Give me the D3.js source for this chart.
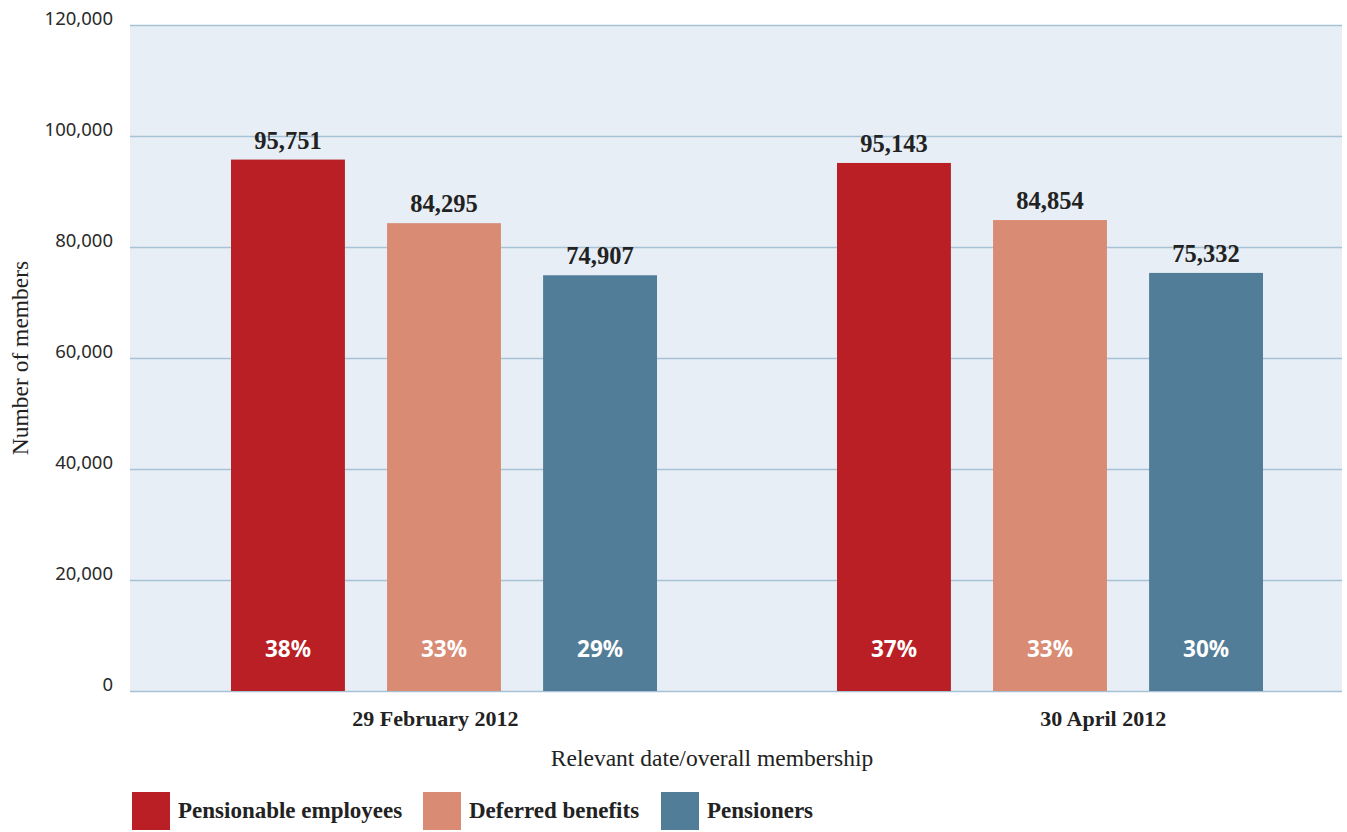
<!DOCTYPE html>
<html>
<head>
<meta charset="utf-8">
<script src="https://cdn.jsdelivr.net/npm/d3@7"></script>
<style>
  html, body { margin: 0; padding: 0; background: #ffffff; }
  svg { display: block; }
</style>
</head>
<body>
<svg id="chart" width="1347" height="832"></svg>
<script>
// Membership by category at each relevant date
const dates = ["29 February 2012", "30 April 2012"];
const seriesNames = ["Pensionable employees", "Deferred benefits", "Pensioners"];
const pensionableEmployees = [95751, 95143];
const deferredBenefits = [84295, 84854];
const pensioners = [74907, 75332];
const pensionablePct = ["38%", "37%"];
const deferredPct = ["33%", "33%"];
const pensionersPct = ["29%", "30%"];
const yTicks = [0, 20000, 40000, 60000, 80000, 100000, 120000];
const colors = ["#b91f24", "#d98b74", "#527d98"];

const seriesValues = [pensionableEmployees, deferredBenefits, pensioners];
const seriesPct = [pensionablePct, deferredPct, pensionersPct];

const svg = d3.select("#chart");
const plot = { left: 130, top: 25, right: 1342, bottom: 691 };

const serif = "'Liberation Serif', 'DejaVu Serif', serif";
const sans = "'Noto Sans', 'Open Sans', sans-serif";

const y = d3.scaleLinear().domain([0, 120000]).range([plot.bottom, plot.top]);

// group positions for the two dates
const x0 = d3.scaleBand().domain(dates)
  .range([plot.left + 11, plot.right + 11]).padding(0);
const groupWidth = 426;
const x1 = d3.scaleBand().domain(seriesNames)
  .range([0, groupWidth]).paddingInner(0.27).paddingOuter(0);

// plot background
svg.append("rect")
  .attr("x", plot.left).attr("y", plot.top)
  .attr("width", plot.right - plot.left).attr("height", plot.bottom - plot.top)
  .attr("fill", "#e7eef5");

// y axis with gridlines
const yAxis = d3.axisLeft(y)
  .tickValues(yTicks)
  .tickSize(-(plot.right - plot.left))
  .tickPadding(17)
  .tickFormat(d3.format(","));

const yg = svg.append("g")
  .attr("transform", `translate(${plot.left},0)`)
  .call(yAxis);
yg.select(".domain").remove();
yg.selectAll(".tick line")
  .attr("stroke", "#a8c2d5")
  .attr("stroke-width", 1.6);
yg.selectAll(".tick text")
  .attr("fill", "#2a2a2a")
  .attr("dy", "-0.05em")
  .style("font-family", sans)
  .style("font-size", "18.5px");

// bars
const rows = [];
dates.forEach((d, gi) => {
  seriesNames.forEach((s, si) => {
    rows.push({ date: d, series: s, si, value: seriesValues[si][gi], pct: seriesPct[si][gi] });
  });
});

const groupX = d => x0(d) + x0.bandwidth() / 2 - groupWidth / 2;

const bars = svg.append("g");
bars.selectAll("rect")
  .data(rows)
  .join("rect")
  .attr("x", d => groupX(d.date) + x1(d.series))
  .attr("y", d => y(d.value))
  .attr("width", x1.bandwidth())
  .attr("height", d => y(0) - y(d.value))
  .attr("fill", d => colors[d.si]);

// value labels above bars
svg.append("g").selectAll("text")
  .data(rows)
  .join("text")
  .attr("x", d => groupX(d.date) + x1(d.series) + x1.bandwidth() / 2)
  .attr("y", d => y(d.value) - 11)
  .attr("text-anchor", "middle")
  .attr("fill", "#222")
  .style("font-family", serif)
  .style("font-weight", "bold")
  .style("font-size", "24.5px")
  .text(d => d3.format(",")(d.value));

// percentage labels inside bars
svg.append("g").selectAll("text")
  .data(rows)
  .join("text")
  .attr("x", d => groupX(d.date) + x1(d.series) + x1.bandwidth() / 2)
  .attr("y", y(0) - 34)
  .attr("text-anchor", "middle")
  .attr("fill", "#ffffff")
  .style("font-family", sans)
  .style("font-weight", "bold")
  .style("font-size", "22.5px")
  .text(d => d.pct);

// date labels under the axis
const labelX = d3.scalePoint().domain(dates)
  .range([plot.left + (plot.right - plot.left) * 0.252, plot.left + (plot.right - plot.left) * 0.803]);
svg.append("g").selectAll("text")
  .data(dates)
  .join("text")
  .attr("x", d => labelX(d))
  .attr("y", 726)
  .attr("text-anchor", "middle")
  .attr("fill", "#222")
  .style("font-family", serif)
  .style("font-weight", "bold")
  .style("font-size", "22px")
  .text(d => d);

// axis titles
svg.append("text")
  .attr("x", 712).attr("y", 766)
  .attr("text-anchor", "middle")
  .attr("fill", "#222")
  .style("font-family", serif)
  .style("font-size", "23.5px")
  .text("Relevant date/overall membership");

svg.append("text")
  .attr("transform", `translate(28,358) rotate(-90)`)
  .attr("text-anchor", "middle")
  .attr("fill", "#222")
  .style("font-family", serif)
  .style("font-size", "23.5px")
  .text("Number of members");

// legend
const legendX = [132, 423, 661];
const legend = svg.append("g").selectAll("g")
  .data(seriesNames)
  .join("g")
  .attr("transform", (d, i) => `translate(${legendX[i]},792)`);
legend.append("rect")
  .attr("width", 38).attr("height", 38)
  .attr("fill", (d, i) => colors[i]);
legend.append("text")
  .attr("x", 46).attr("y", 26)
  .attr("fill", "#222")
  .style("font-family", serif)
  .style("font-weight", "bold")
  .style("font-size", "23px")
  .text(d => d);
</script>
</body>
</html>
